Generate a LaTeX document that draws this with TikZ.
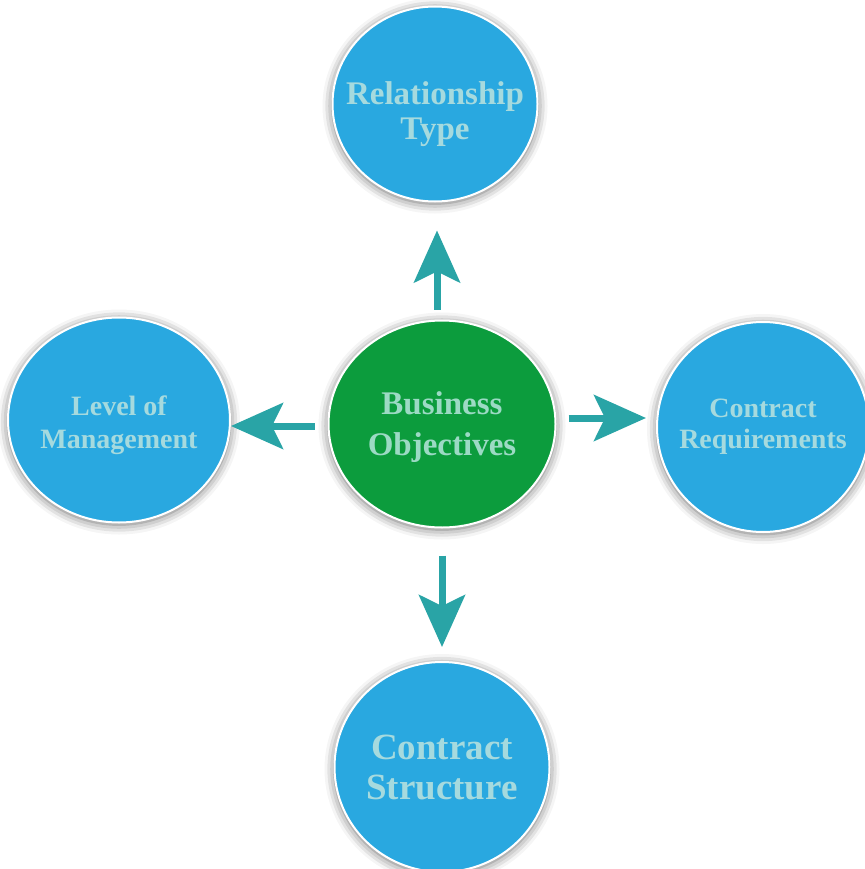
\documentclass[tikz,border=0pt]{standalone}
\usepackage{fontspec}
\setmainfont{Liberation Serif}
\usetikzlibrary{shapes.geometric,arrows.meta,shadows.blur}
\definecolor{bubble}{HTML}{29A8E0}
\definecolor{core}{HTML}{0C9C3D}
\definecolor{pale}{HTML}{A6DADE}
\definecolor{mint}{HTML}{9CDAC4}
\definecolor{arrowteal}{HTML}{29A4A6}

\begin{document}
\begin{tikzpicture}[x=1pt,y=-1pt,
	disc/.style={ellipse,inner sep=0pt,draw=white,line width=2pt,fill=bubble,
		blur shadow={shadow xshift=0pt,shadow yshift=-2pt,shadow blur radius=10pt,shadow opacity=60}},
	word/.style={text=pale,align=center,inner sep=0pt},
	push/.style={draw=arrowteal,line width=7pt,-{Stealth[length=52pt,width=46pt,inset=11pt]}}]
	\useasboundingbox (0,0) rectangle (864,869);
	\node[disc,minimum width=205pt,minimum height=195pt,
		label={[word,yshift=-10pt,font=\fontsize{33}{35}\selectfont\bfseries]center:Relationship\\Type}] (rt) at (435,104) {};
	\node[disc,fill=core,minimum width=227pt,minimum height=207pt,
		label={[word,text=mint,yshift=-3pt,font=\fontsize{33}{41}\selectfont\bfseries]center:Business\\Objectives}] (bo) at (442,424) {};
	\node[disc,minimum width=222pt,minimum height=205pt,
		label={[word,yshift=-5pt,font=\fontsize{28}{33}\selectfont\bfseries]center:Level of\\Management}] (lm) at (119,420) {};
	\node[disc,minimum width=212pt,minimum height=210pt,
		label={[word,font=\fontsize{28}{31}\selectfont\bfseries]center:Contract\\Requirements}] (cr) at (763,427) {};
	\node[disc,minimum width=215pt,minimum height=210pt,
		label={[word,font=\fontsize{37}{40}\selectfont\bfseries]center:Contract\\Structure}] (cs) at (442,767) {};
	% arrows out of the middle
	\draw[push,shorten <=10pt,shorten >=28pt] ([xshift=-5pt]bo.north) -- ([xshift=-5pt]bo.north |- rt.south);
	\draw[push,shorten <=13pt,shorten >=0pt] ([yshift=-2pt]bo.west) -- ([yshift=-2pt]bo.west -| lm.east);
	\draw[push,shorten <=12pt,shorten >=10pt] ([yshift=6pt]bo.east) -- ([yshift=6pt]bo.east -| cr.west);
	\draw[push,shorten <=27pt,shorten >=14pt] (bo.south) -- (bo.south |- cs.north);
\end{tikzpicture}
\end{document}
